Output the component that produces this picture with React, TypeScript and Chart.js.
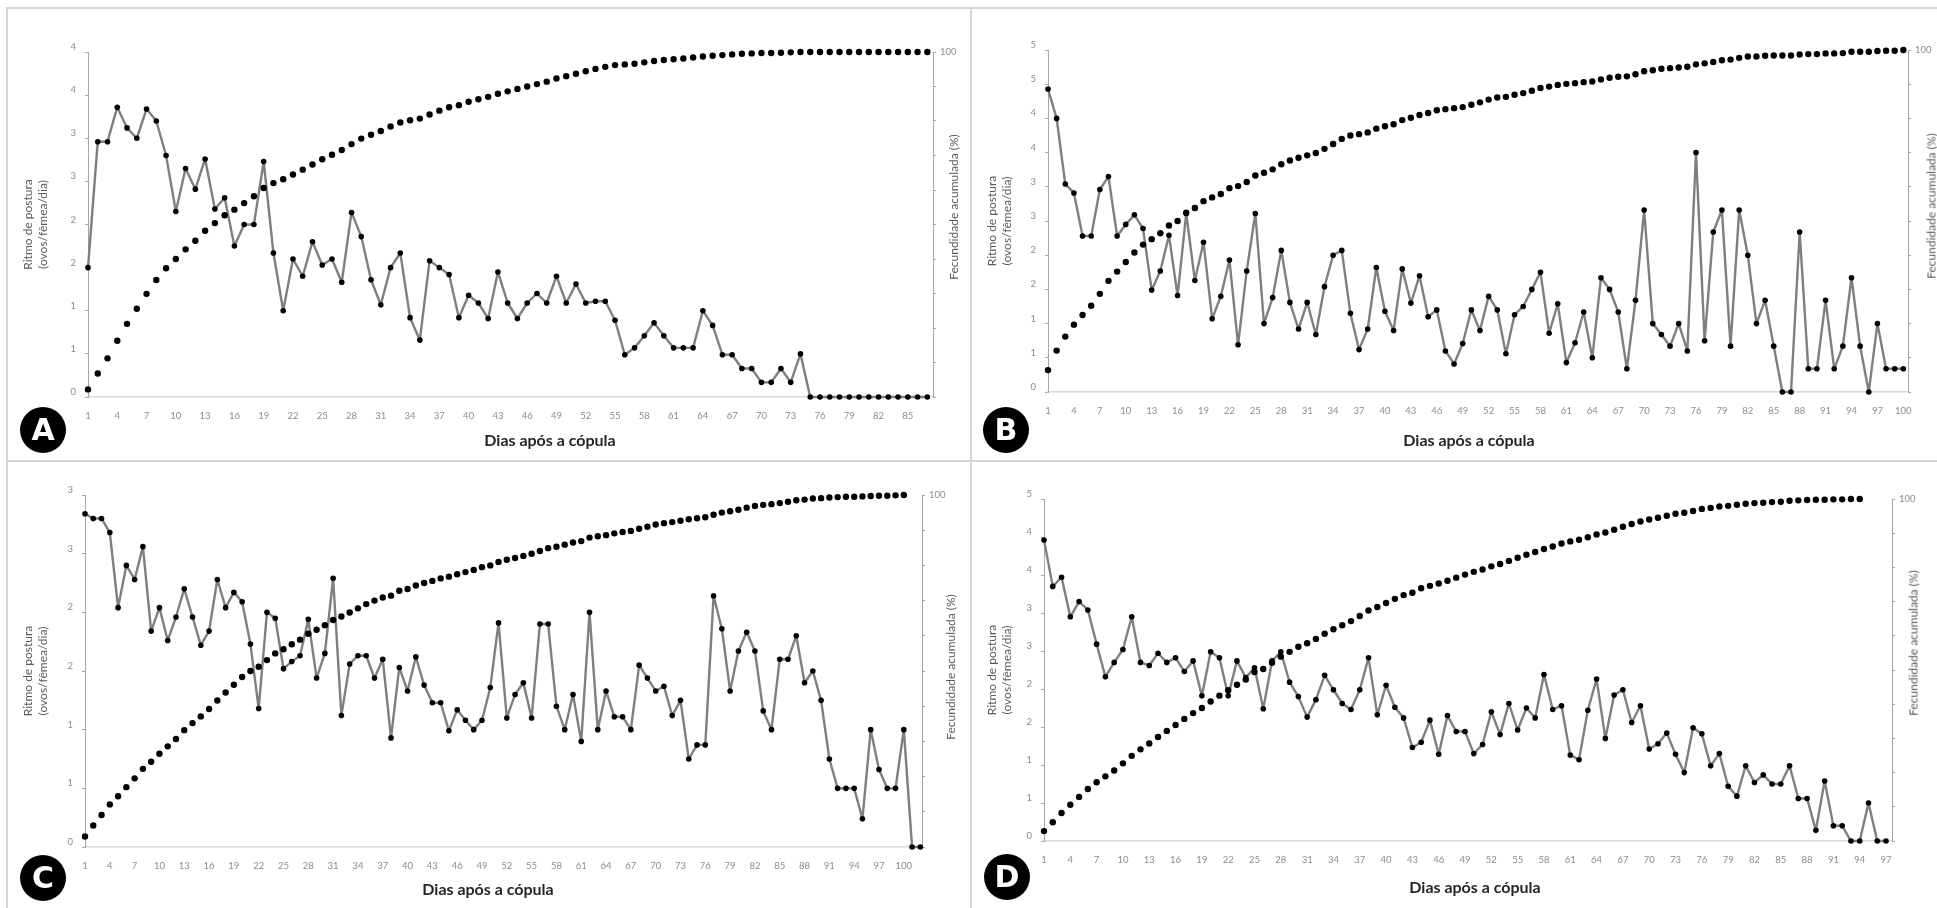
import React, { useEffect, useRef } from 'react';
import { Chart, registerables } from 'chart.js';

Chart.register(...registerables);

// ---------- DATA ----------
const rateA = [1.5, 2.96, 2.96, 3.36, 3.12, 3.0, 3.34, 3.2, 2.8, 2.15,
  2.65, 2.41, 2.76, 2.18, 2.31, 1.75, 2.0, 2.0, 2.73, 1.67,
  1.0, 1.6, 1.4, 1.8, 1.53, 1.6, 1.33, 2.14, 1.86, 1.36,
  1.07, 1.5, 1.67, 0.92, 0.66, 1.58, 1.5, 1.42, 0.92, 1.18,
  1.09, 0.91, 1.45, 1.09, 0.91, 1.09, 1.2, 1.09, 1.4, 1.09,
  1.31, 1.09, 1.11, 1.11, 0.89, 0.49, 0.57, 0.71, 0.86, 0.71,
  0.57, 0.57, 0.57, 1.0, 0.83, 0.49, 0.49, 0.33, 0.33, 0.17,
  0.17, 0.33, 0.17, 0.5, 0, 0, 0, 0, 0, 0,
  0, 0, 0, 0, 0, 0, 0];
const cumA = [2.2, 6.8, 11.2, 16.3, 21.2, 25.6, 29.9, 33.9, 37.3, 40.0,
  42.8, 45.3, 48.2, 50.4, 52.7, 54.3, 56.2, 58.2, 60.6, 62.0,
  63.1, 64.5, 65.9, 67.4, 68.9, 70.2, 71.6, 73.3, 74.9, 76.0,
  77.1, 78.4, 79.6, 80.2, 80.7, 81.9, 83.0, 84.0, 84.6, 85.6,
  86.3, 87.0, 87.9, 88.6, 89.3, 90.0, 90.7, 91.4, 92.3, 93.0,
  93.7, 94.4, 95.1, 95.7, 96.2, 96.4, 96.6, 97.0, 97.4, 97.7,
  97.9, 98.1, 98.4, 98.7, 98.9, 99.1, 99.3, 99.5, 99.6, 99.7,
  99.7, 99.8, 99.9, 100, 100, 100, 100, 100, 100, 100,
  100, 100, 100, 100, 100, 100, 100];

const rateB = [4.43, 4.0, 3.04, 2.91, 2.28, 2.28, 2.96, 3.15, 2.28, 2.45,
  2.59, 2.39, 1.49, 1.77, 2.29, 1.41, 2.61, 1.63, 2.19, 1.07,
  1.4, 1.93, 0.69, 1.77, 2.61, 1.0, 1.38, 2.07, 1.31, 0.92,
  1.31, 0.84, 1.54, 2.0, 2.07, 1.15, 0.62, 0.92, 1.82, 1.18,
  0.9, 1.8, 1.3, 1.7, 1.1, 1.2, 0.6, 0.41, 0.71, 1.2,
  0.9, 1.4, 1.2, 0.56, 1.13, 1.25, 1.5, 1.75, 0.86, 1.29,
  0.43, 0.72, 1.17, 0.5, 1.67, 1.5, 1.17, 0.34, 1.34, 2.66,
  1.0, 0.84, 0.67, 1.0, 0.6, 3.5, 0.75, 2.34, 2.66, 0.67,
  2.66, 2.0, 1.0, 1.34, 0.67, 0, 0, 2.34, 0.34, 0.34,
  1.34, 0.34, 0.67, 1.67, 0.67, 0, 1.0, 0.34, 0.34, 0.34];
const cumB = [6.4, 12.1, 16.2, 19.7, 22.5, 25.2, 28.7, 32.5, 35.2, 38.0,
  40.8, 43.1, 44.7, 46.4, 48.7, 50.0, 52.4, 53.8, 55.8, 56.9,
  57.9, 59.6, 60.2, 61.4, 63.3, 64.1, 65.1, 66.6, 67.7, 68.5,
  69.2, 69.9, 71.1, 72.5, 74.0, 75.0, 75.4, 75.9, 77.0, 77.7,
  78.3, 79.5, 80.2, 81.0, 81.6, 82.4, 82.7, 83.0, 83.3, 84.0,
  84.7, 85.5, 86.1, 86.3, 86.9, 87.4, 88.1, 88.9, 89.3, 89.8,
  90.1, 90.3, 90.6, 90.8, 91.4, 91.9, 92.2, 92.3, 92.9, 93.8,
  94.1, 94.5, 94.7, 94.9, 95.1, 95.8, 96.1, 96.5, 97.0, 97.2,
  97.7, 98.1, 98.1, 98.3, 98.4, 98.4, 98.4, 98.7, 98.8, 98.8,
  99.0, 99.0, 99.1, 99.5, 99.5, 99.5, 99.7, 99.8, 99.8, 100];

const rateC = [2.84, 2.80, 2.80, 2.68, 2.04, 2.40, 2.28, 2.56, 1.84, 2.04,
  1.76, 1.96, 2.2, 1.96, 1.72, 1.84, 2.28, 2.04, 2.17, 2.09,
  1.73, 1.18, 2.0, 1.95, 1.52, 1.58, 1.63, 1.94, 1.44, 1.65,
  2.29, 1.12, 1.56, 1.63, 1.63, 1.44, 1.6, 0.93, 1.53, 1.33,
  1.62, 1.38, 1.23, 1.23, 0.99, 1.17, 1.08, 1.0, 1.08, 1.36,
  1.91, 1.10, 1.30, 1.40, 1.10, 1.90, 1.90, 1.20, 1.0, 1.30,
  0.90, 2.0, 1.0, 1.33, 1.11, 1.11, 1.0, 1.55, 1.44, 1.33,
  1.37, 1.12, 1.25, 0.75, 0.87, 0.87, 2.14, 1.86, 1.33, 1.67,
  1.83, 1.67, 1.16, 1.0, 1.6, 1.6, 1.8, 1.4, 1.5, 1.25,
  0.75, 0.5, 0.5, 0.5, 0.24, 1.0, 0.66, 0.5, 0.5, 1.0,
  0, 0];
const cumC = [3.0, 6.1, 9.1, 12.1, 14.4, 17.0, 19.5, 22.2, 24.2, 26.5,
  28.6, 30.7, 33.2, 35.2, 37.1, 39.2, 41.6, 43.9, 46.1, 48.3,
  50.0, 51.2, 53.1, 55.0, 56.2, 57.6, 58.9, 60.6, 61.7, 63.0,
  64.5, 65.5, 66.6, 67.8, 69.0, 70.0, 70.9, 71.4, 72.8, 73.3,
  74.3, 75.0, 75.6, 76.3, 76.8, 77.5, 78.1, 78.7, 79.5, 80.0,
  81.0, 81.6, 82.1, 82.7, 83.3, 84.1, 84.9, 85.3, 85.9, 86.5,
  86.9, 87.9, 88.3, 88.6, 89.1, 89.5, 89.8, 90.4, 91.0, 91.6,
  92.0, 92.3, 92.7, 93.1, 93.4, 93.7, 94.4, 95.0, 95.4, 95.8,
  96.4, 96.9, 97.2, 97.4, 97.7, 98.1, 98.5, 98.7, 99.0, 99.1,
  99.3, 99.4, 99.5, 99.5, 99.6, 99.7, 99.8, 99.8, 99.9, 100,
  null, null];

const rateD = [3.96, 3.35, 3.47, 2.95, 3.15, 3.04, 2.59, 2.16, 2.35, 2.52,
  2.95, 2.35, 2.31, 2.47, 2.35, 2.41, 2.23, 2.37, 1.91, 2.49,
  2.41, 1.91, 2.37, 2.15, 2.28, 1.74, 2.37, 2.49, 2.09, 1.9,
  1.63, 1.86, 2.18, 1.99, 1.81, 1.73, 1.99, 2.41, 1.66, 2.05,
  1.76, 1.62, 1.23, 1.3, 1.59, 1.14, 1.65, 1.44, 1.44, 1.15,
  1.27, 1.7, 1.4, 1.81, 1.46, 1.75, 1.62, 2.19, 1.73, 1.78,
  1.13, 1.07, 1.72, 2.13, 1.35, 1.92, 1.99, 1.56, 1.78, 1.21,
  1.28, 1.42, 1.14, 0.9, 1.49, 1.41, 0.99, 1.15, 0.72, 0.59,
  0.99, 0.77, 0.87, 0.75, 0.75, 0.99, 0.56, 0.56, 0.14, 0.79,
  0.2, 0.2, 0, 0, 0.5, 0, 0];
const cumD = [2.9, 5.5, 8.2, 10.6, 12.9, 15.2, 17.2, 18.9, 20.6, 22.7,
  24.9, 26.8, 28.5, 30.4, 32.2, 33.9, 35.7, 37.4, 38.9, 40.8,
  42.5, 44.1, 45.7, 47.2, 49.4, 50.3, 52.1, 53.9, 55.3, 56.8,
  57.8, 59.1, 60.6, 61.9, 63.1, 64.3, 65.8, 67.4, 68.4, 69.6,
  70.8, 71.9, 72.6, 73.9, 74.6, 75.3, 76.1, 77.0, 77.9, 78.7,
  79.4, 80.3, 81.0, 81.9, 82.8, 83.7, 84.5, 85.4, 86.1, 87.0,
  87.6, 88.1, 88.8, 89.6, 90.2, 91.0, 91.9, 92.7, 93.4, 94.0,
  94.5, 95.1, 95.7, 96.0, 96.5, 97.1, 97.4, 97.8, 98.0, 98.3,
  98.6, 98.8, 98.9, 99.1, 99.2, 99.5, 99.6, 99.7, 99.8, 99.8,
  99.9, 99.9, 100, 100, null, null, null];

const xTicksA = [1, 4, 7, 10, 13, 16, 19, 22, 25, 28, 31, 34, 37, 40, 43, 46, 49, 52, 55, 58, 61, 64, 67, 70, 73, 76, 79, 82, 85];
const xTicksB = [1, 4, 7, 10, 13, 16, 19, 22, 25, 28, 31, 34, 37, 40, 43, 46, 49, 52, 55, 58, 61, 64, 67, 70, 73, 76, 79, 82, 85, 88, 91, 94, 97, 100];
const xTicksC = [1, 4, 7, 10, 13, 16, 19, 22, 25, 28, 31, 34, 37, 40, 43, 46, 49, 52, 55, 58, 61, 64, 67, 70, 73, 76, 79, 82, 85, 88, 91, 94, 97, 100];
const xTicksD = [1, 4, 7, 10, 13, 16, 19, 22, 25, 28, 31, 34, 37, 40, 43, 46, 49, 52, 55, 58, 61, 64, 67, 70, 73, 76, 79, 82, 85, 88, 91, 94, 97];

const yMaxA = 4;
const yMaxB = 5;
const yMaxC = 3;
const yMaxD = 4.5;

const xTitleText = 'Dias após a cópula';
const leftTitleText = ['Ritmo de postura', '(ovos/fêmea/dia)'];
const rightTitleText = 'Fecundidade acumulada (%)';

// ---------- LAYOUT ----------
type Box = { left: number; top: number; width: number; height: number };
type Plot = { left: number; top: number; right: number; bottom: number };
type PanelCfg = {
  letter: string;
  rate: number[];
  cum: (number | null)[];
  xTicks: number[];
  yMax: number;
  xMax: number;
  box: Box;
  plot: Plot;
  xTitle: [number, number];
  rTitle: [number, number];
  circle: [number, number];
};

const panels: PanelCfg[] = [
  {
    letter: 'A', rate: rateA, cum: cumA, xTicks: xTicksA, yMax: yMaxA, xMax: 87.58,
    box: { left: 7, top: 8, width: 964, height: 453 },
    plot: { left: 88, top: 52, right: 933, bottom: 397 },
    xTitle: [550, 439], rTitle: [953, 207], circle: [43, 430],
  },
  {
    letter: 'B', rate: rateB, cum: cumB, xTicks: xTicksB, yMax: yMaxB, xMax: 100.54,
    box: { left: 971, top: 8, width: 966, height: 453 },
    plot: { left: 1048, top: 50, right: 1908, bottom: 392 },
    xTitle: [1469, 439], rTitle: [1931, 206], circle: [1006, 430],
  },
  {
    letter: 'C', rate: rateC, cum: cumC, xTicks: xTicksC, yMax: yMaxC, xMax: 102.2,
    box: { left: 7, top: 461, width: 964, height: 447 },
    plot: { left: 85, top: 495, right: 922, bottom: 847 },
    xTitle: [488, 888], rTitle: [950, 667], circle: [43, 878],
  },
  {
    letter: 'D', rate: rateD, cum: cumD, xTicks: xTicksD, yMax: yMaxD, xMax: 97.68,
    box: { left: 971, top: 461, width: 966, height: 447 },
    plot: { left: 1044, top: 499, right: 1892, bottom: 841 },
    xTitle: [1475, 886], rTitle: [1913, 643], circle: [1007, 877],
  },
];

const FONT = 'Lato, "Open Sans", sans-serif';
const TICK_COLOR = '#8c8c8c';
const AXIS_COLOR = '#a6a6a6';

function PanelChart({ cfg }: { cfg: PanelCfg }) {
  const ref = useRef<HTMLCanvasElement | null>(null);
  useEffect(() => {
    const { box, plot } = cfg;
    const leftW = plot.left - box.left;
    const rightW = box.left + box.width - plot.right;
    const topPad = plot.top - box.top;
    const bottomH = box.top + box.height - plot.bottom;
    const chart = new Chart(ref.current as HTMLCanvasElement, {
      type: 'line',
      data: {
        datasets: [
          {
            label: 'Fecundidade acumulada (%)',
            data: cfg.cum.map((v, i) => ({ x: i + 1, y: v })),
            yAxisID: 'y1',
            showLine: false,
            borderColor: '#000',
            backgroundColor: '#000',
            pointRadius: 3.2,
            pointBackgroundColor: '#000',
            pointBorderWidth: 0,
            clip: false,
          } as any,
          {
            label: 'Ritmo de postura (ovos/fêmea/dia)',
            data: cfg.rate.map((v, i) => ({ x: i + 1, y: v })),
            yAxisID: 'y',
            borderColor: '#7f7f7f',
            borderWidth: 2.4,
            borderJoinStyle: 'round',
            borderCapStyle: 'round',
            tension: 0,
            pointRadius: 2.8,
            pointBackgroundColor: '#000',
            pointBorderColor: '#000',
            pointBorderWidth: 0,
            clip: false,
          } as any,
        ],
      },
      options: {
        responsive: false,
        maintainAspectRatio: false,
        animation: false,
        layout: { padding: { top: topPad, left: 0, right: 0, bottom: 0 } },
        plugins: { legend: { display: false }, tooltip: { enabled: false } },
        scales: {
          x: {
            type: 'linear',
            min: 1,
            max: cfg.xMax,
            afterBuildTicks: (s: any) => {
              s.ticks = cfg.xTicks.map((v) => ({ value: v }));
            },
            afterFit: (s: any) => {
              s.height = bottomH;
            },
            grid: { display: false },
            border: { display: true, color: '#d9d9d9', width: 1.5 },
            ticks: {
              autoSkip: false,
              maxRotation: 0,
              padding: 5,
              color: TICK_COLOR,
              font: { family: FONT, size: 9.5 },
              callback: (v: any) => String(v),
            },
          },
          y: {
            position: 'left',
            min: 0,
            max: cfg.yMax,
            afterFit: (s: any) => {
              s.width = leftW;
            },
            grid: { display: true, drawOnChartArea: false, drawTicks: true, tickLength: 3, color: AXIS_COLOR },
            border: { display: true, color: AXIS_COLOR, width: 1 },
            ticks: {
              stepSize: 0.5,
              padding: 9,
              labelOffset: -5,
              color: TICK_COLOR,
              font: { family: FONT, size: 9.5 },
              callback: (v: any) => String(Math.round(Number(v))),
            },
            title: {
              display: true,
              text: leftTitleText,
              color: '#595959',
              font: { family: FONT, size: 12, lineHeight: 1.25 },
              padding: { top: 14, bottom: 0 },
            },
          },
          y1: {
            position: 'right',
            min: 0,
            max: 100,
            afterFit: (s: any) => {
              s.width = rightW;
            },
            grid: { display: true, drawOnChartArea: false, drawTicks: true, tickLength: 3, color: AXIS_COLOR },
            border: { display: true, color: AXIS_COLOR, width: 1 },
            ticks: {
              stepSize: 10,
              padding: 4,
              color: TICK_COLOR,
              font: { family: FONT, size: 9.5 },
              callback: (v: any) => (Number(v) === 100 ? '100' : ''),
            },
          },
        },
      } as any,
    });
    return () => chart.destroy();
  }, [cfg]);
  return (
    <canvas
      ref={ref}
      width={cfg.box.width}
      height={cfg.box.height}
      style={{ position: 'absolute', left: cfg.box.left, top: cfg.box.top, width: cfg.box.width, height: cfg.box.height }}
    />
  );
}

export default function App() {
  const lineStyle = { position: 'absolute' as const, background: '#d6d6d6' };
  return (
    <div style={{ position: 'absolute', left: 0, top: 0, width: 1937, height: 908, background: '#fff', overflow: 'hidden', fontFamily: FONT }}>
      <div style={{ ...lineStyle, left: 6, top: 7, width: 1931, height: 2 }} />
      <div style={{ ...lineStyle, left: 6, top: 460, width: 1931, height: 2 }} />
      <div style={{ ...lineStyle, left: 6, top: 7, width: 2, height: 901 }} />
      <div style={{ ...lineStyle, left: 970, top: 7, width: 2, height: 901 }} />
      {panels.map((p) => (
        <PanelChart key={p.letter} cfg={p} />
      ))}
      {panels.map((p) => (
        <React.Fragment key={'t' + p.letter}>
          <div
            style={{
              position: 'absolute', left: p.xTitle[0], top: p.xTitle[1], transform: 'translate(-50%, -50%)',
              fontFamily: FONT, fontWeight: 700, fontSize: 16, color: '#262626', whiteSpace: 'nowrap',
            }}
          >
            {xTitleText}
          </div>
          <div
            style={{
              position: 'absolute', left: p.rTitle[0], top: p.rTitle[1], transform: 'translate(-50%, -50%) rotate(-90deg)',
              fontFamily: FONT, fontSize: 12, color: '#595959', whiteSpace: 'nowrap',
            }}
          >
            {rightTitleText}
          </div>
          <div
            style={{
              position: 'absolute', left: p.circle[0] - 23, top: p.circle[1] - 23, width: 46, height: 46, borderRadius: '50%',
              background: '#000', color: '#fff', display: 'flex', alignItems: 'center', justifyContent: 'center',
              fontFamily: '"DejaVu Sans", sans-serif', fontWeight: 900, fontSize: 30, lineHeight: 1,
            }}
          >
            {p.letter}
          </div>
        </React.Fragment>
      ))}
    </div>
  );
}
